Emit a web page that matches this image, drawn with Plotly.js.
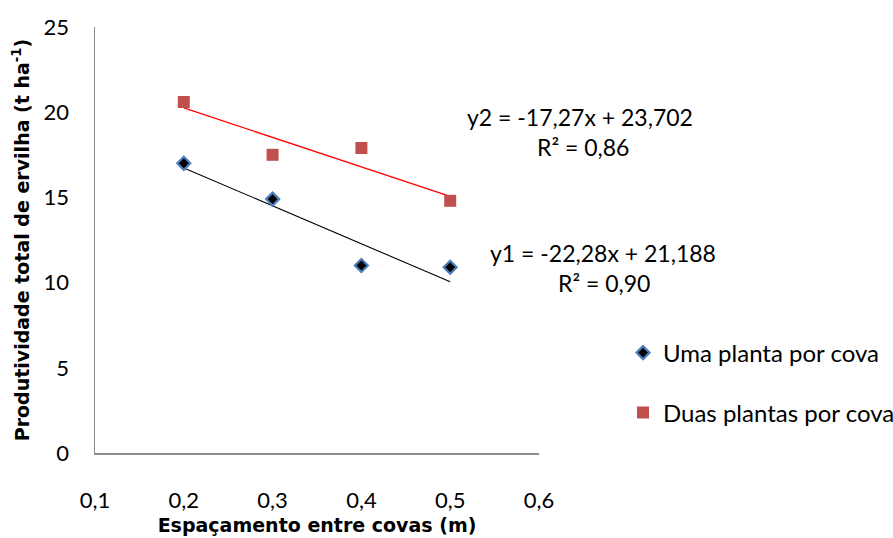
<!DOCTYPE html>
<html><head><meta charset="utf-8">
<script src="https://cdn.plot.ly/plotly-3.0.1.min.js"></script>
<style>html,body{margin:0;padding:0;background:#fff}#chart{width:893px;height:538px}</style>
</head><body><div id="chart"></div>
<script>
// Data
const spacing = [0.2, 0.3, 0.4, 0.5];
const umaPlanta = [17.0, 14.9, 11.0, 10.9];
const duasPlantas = [20.6, 17.5, 17.9, 14.8];
const trend1 = {slope: -22.28, intercept: 21.188, label: "y1 = -22,28x + 21,188", r2: "R² = 0,90"};
const trend2 = {slope: -17.27, intercept: 23.702, label: "y2 = -17,27x + 23,702", r2: "R² = 0,86"};
const seriesNames = ["Uma planta por cova", "Duas plantas por cova"];
const xTicks = [0.1, 0.2, 0.3, 0.4, 0.5, 0.6];
const yTicks = [0, 5, 10, 15, 20, 25];

const trendX = [spacing[0], spacing[spacing.length - 1]];
const line = t => trendX.map(x => t.slope * x + t.intercept);

const W = 893, H = 538;
const L = 95, R = 539, T = 27, B = 453;
const px = x => (x - L) / (R - L);
const py = y => (B - y) / (B - T);
const cx = x => x / W;
const cy = y => 1 - y / H;

const font = "Lato, 'Open Sans', sans-serif";
const boldFont = "'DejaVu Sans', sans-serif";

const traces = [
  {x: trendX, y: line(trend2), mode: 'lines', line: {color: '#ff0000', width: 1.3}, showlegend: false, hoverinfo: 'skip'},
  {x: trendX, y: line(trend1), mode: 'lines', line: {color: '#000000', width: 1.1}, showlegend: false, hoverinfo: 'skip'},
  {x: spacing, y: umaPlanta, name: seriesNames[0], mode: 'markers',
   marker: {symbol: 'diamond', size: 10, color: '#000000', line: {color: '#4a7ebb', width: 2.2}}, legend: 'legend'},
  {x: spacing, y: duasPlantas, name: seriesNames[1], mode: 'markers',
   marker: {symbol: 'square', size: 12, color: '#c0504d', line: {width: 0}}, legend: 'legend2'}
];

const annFont = {family: font, size: 23, color: '#000'};
const legFont = {family: font, size: 24, color: '#000'};
const layout = {
  width: W, height: H,
  margin: {l: L, r: W - R, t: T, b: H - B, pad: 0, autoexpand: false},
  paper_bgcolor: '#fff', plot_bgcolor: '#fff',
  separators: ',.',
  font: {family: font, size: 22, color: '#000'},
  xaxis: {
    range: [0.1, 0.6], tickvals: xTicks, tickformat: '.1f',
    showgrid: false, zeroline: false, showline: true, linecolor: '#8c8c8c', linewidth: 1.5,
    ticks: '', ticklabelstandoff: 27, tickfont: {family: font, size: 22},
    title: {text: '<b>Espaçamento entre covas (m)</b>', font: {family: boldFont, size: 19}, standoff: 7}
  },
  yaxis: {
    range: [0, 25], tickvals: yTicks,
    showgrid: false, zeroline: false, showline: true, linecolor: '#8c8c8c', linewidth: 1.5,
    ticks: '', ticklabelstandoff: 20, tickfont: {family: font, size: 22},
    title: {text: '<b>Produtividade total de ervilha (t ha<sup>-1</sup>)</b>', font: {family: boldFont, size: 19}, standoff: 9}
  },
  legend: {x: cx(623), y: cy(353), xanchor: 'left', yanchor: 'middle', xref: 'container', yref: 'container',
    font: legFont, bgcolor: 'rgba(0,0,0,0)', itemwidth: 30},
  legend2: {x: cx(623), y: cy(413), xanchor: 'left', yanchor: 'middle', xref: 'container', yref: 'container',
    font: legFont, bgcolor: 'rgba(0,0,0,0)', itemwidth: 30},
  annotations: [
    {text: trend2.label, x: px(580), y: py(117), xref: 'paper', yref: 'paper', showarrow: false, font: annFont, xanchor: 'center', yanchor: 'middle'},
    {text: trend2.r2, x: px(583), y: py(147), xref: 'paper', yref: 'paper', showarrow: false, font: annFont, xanchor: 'center', yanchor: 'middle'},
    {text: trend1.label, x: px(603), y: py(253), xref: 'paper', yref: 'paper', showarrow: false, font: annFont, xanchor: 'center', yanchor: 'middle'},
    {text: trend1.r2, x: px(604), y: py(283), xref: 'paper', yref: 'paper', showarrow: false, font: annFont, xanchor: 'center', yanchor: 'middle'}
  ]
};

Plotly.newPlot('chart', traces, layout, {displayModeBar: false, staticPlot: true});
</script>
</body></html>
